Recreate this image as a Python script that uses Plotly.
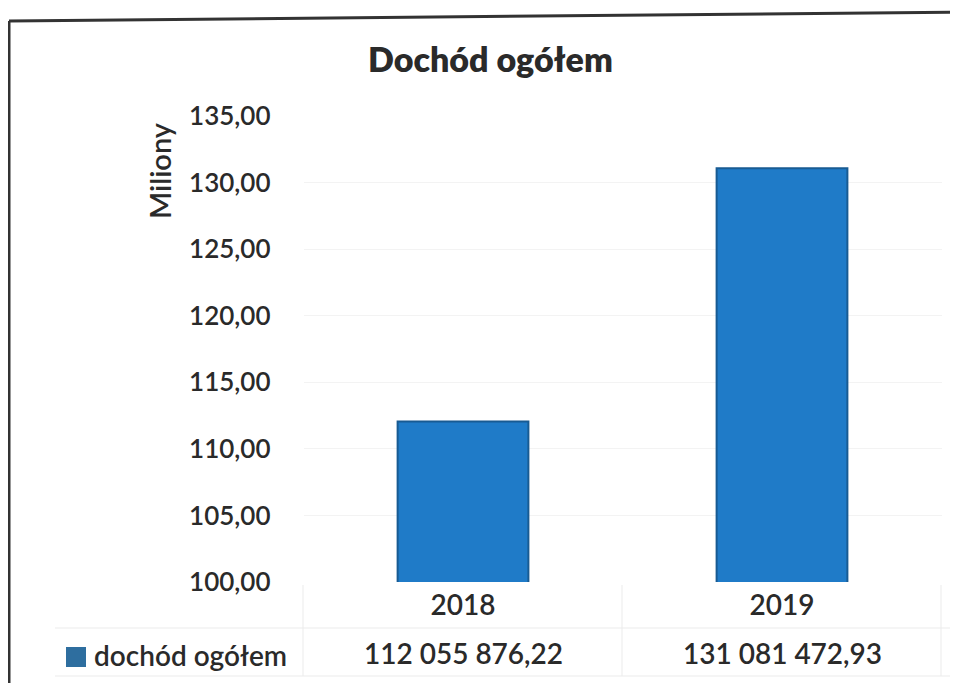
"""Dochód ogółem - bar chart with data table row."""

import plotly.graph_objects as go

W, H = 958, 683
OFF = 8  # page body margin of the browser

years = ["2018", "2019"]
income = [112055876.22, 131081472.93]
series_name = "dochód ogółem"
title = "Dochód ogółem"
y_title = "Miliony"

income_mln = [v / 1e6 for v in income]
xpos = list(range(len(years)))


def fmt_pl(v: float) -> str:
    return f"{v:,.2f}".replace(",", " ").replace(".", ",")


def px_x(x: float) -> float:
    return (x - OFF) / W


def px_y(y: float) -> float:
    return 1 - (y - OFF) / H


FONT = "Lato"
TEXT = "#2a2a2a"
BAR = "#1f7bc8"


def font(size: int, weight: int = 600) -> dict:
    return {"family": FONT, "size": size, "color": TEXT, "weight": weight}


fig = go.Figure()

fig.add_trace(
    go.Bar(
        x=xpos,
        y=income_mln,
        width=0.41,
        marker={"color": BAR, "line": {"color": "#185b93", "width": 2}},
        name=series_name,
        showlegend=False,
    )
)

annotations = [
    {
        "text": title,
        "x": px_x(490), "y": px_y(58),
        "xref": "paper", "yref": "paper",
        "xanchor": "center", "yanchor": "middle",
        "showarrow": False,
        "font": font(34, 800),
    },
    {
        "text": y_title,
        "x": px_x(160), "y": px_y(171),
        "xref": "paper", "yref": "paper",
        "xanchor": "center", "yanchor": "middle",
        "showarrow": False, "textangle": -90,
        "font": font(29),
    },
    {
        "text": series_name,
        "x": px_x(92), "y": px_y(655),
        "xref": "paper", "yref": "paper",
        "xanchor": "left", "yanchor": "middle",
        "showarrow": False,
        "font": font(28),
    },
]
for i, v in zip(xpos, income):
    annotations.append(
        {
            "text": fmt_pl(v),
            "x": i, "y": px_y(653),
            "xref": "x", "yref": "paper",
            "xanchor": "center", "yanchor": "middle",
            "showarrow": False,
            "font": font(28),
        }
    )

line_grey = {"color": "#ebebeb", "width": 1}
shapes = [
    # legend key
    {"type": "rect", "xref": "paper", "yref": "paper",
     "x0": px_x(66), "x1": px_x(86), "y0": px_y(667), "y1": px_y(647),
     "fillcolor": "#2e6e9f", "line": {"width": 0}},
    # data table lines
    {"type": "line", "xref": "paper", "yref": "paper",
     "x0": px_x(55), "x1": px_x(950), "y0": px_y(628), "y1": px_y(628),
     "line": line_grey},
    {"type": "line", "xref": "paper", "yref": "paper",
     "x0": px_x(55), "x1": px_x(950), "y0": px_y(676), "y1": px_y(676),
     "line": line_grey},
    {"type": "line", "xref": "paper", "yref": "paper",
     "x0": px_x(303), "x1": px_x(303), "y0": px_y(585), "y1": px_y(676),
     "line": line_grey},
    {"type": "line", "xref": "paper", "yref": "paper",
     "x0": px_x(622), "x1": px_x(622), "y0": px_y(585), "y1": px_y(676),
     "line": line_grey},
    {"type": "line", "xref": "paper", "yref": "paper",
     "x0": px_x(941), "x1": px_x(941), "y0": px_y(585), "y1": px_y(676),
     "line": line_grey},
    # scanned frame
    {"type": "line", "xref": "paper", "yref": "paper",
     "x0": px_x(9), "x1": px_x(9), "y0": px_y(21), "y1": px_y(700),
     "line": {"color": "#333333", "width": 3}},
    {"type": "line", "xref": "paper", "yref": "paper",
     "x0": px_x(9), "x1": px_x(966), "y0": px_y(21), "y1": px_y(12),
     "line": {"color": "#333333", "width": 3}},
]

fig.update_layout(
    template="none",
    width=W,
    height=H,
    autosize=False,
    margin={"l": 0, "r": 0, "t": 0, "b": 0, "pad": 0},
    paper_bgcolor="white",
    plot_bgcolor="white",
    separators=", ",
    showlegend=False,
    annotations=annotations,
    shapes=shapes,
    xaxis={
        "domain": [px_x(303.5), px_x(941.5)],
        "range": [-0.5, len(years) - 0.5],
        "tickvals": xpos,
        "ticktext": years,
        "automargin": False,
        "showgrid": False,
        "showline": False,
        "zeroline": False,
        "ticks": "",
        "ticklabelstandoff": 4,
        "tickfont": font(28),
    },
    yaxis={
        "domain": [px_y(582), px_y(116)],
        "range": [100, 135],
        "dtick": 5,
        "tick0": 100,
        "tickformat": ".2f",
        "automargin": False,
        "showgrid": True,
        "gridcolor": "#f3f3f3",
        "zeroline": False,
        "showline": False,
        "ticks": "",
        "ticklabelstandoff": 32,
        "tickfont": font(26),
    },
)

fig.write_html("out.html")
